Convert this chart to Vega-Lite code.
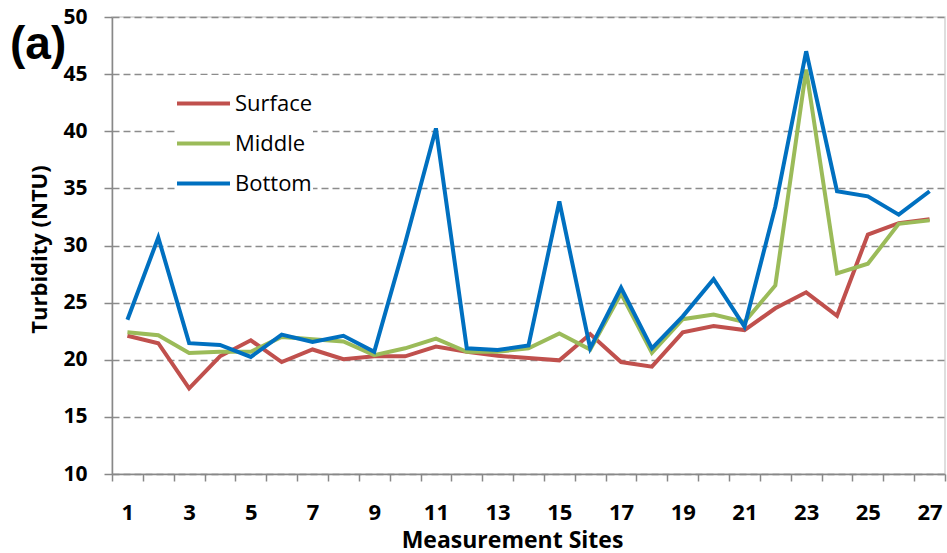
{
  "$schema": "https://vega.github.io/schema/vega-lite/v6.json",
  "width": 833,
  "height": 457,
  "autosize": "none",
  "padding": {"left": 112, "top": 17, "right": 2, "bottom": 79},
  "background": "white",
  "title": {
    "text": "(a)",
    "anchor": "start",
    "frame": "group",
    "orient": "top",
    "font": "Liberation Sans",
    "fontSize": 46,
    "fontWeight": "bold",
    "color": "black",
    "baseline": "alphabetic",
    "offset": -51,
    "dx": -102,
    "dy": 48
  },
  "config": {
    "view": {"stroke": "#d4d4d4", "strokeWidth": 1.5},
    "axis": {
      "labelFont": "Open Sans",
      "labelFontWeight": "bold",
      "labelColor": "black",
      "titleFont": "Open Sans",
      "titleFontWeight": "bold",
      "titleColor": "black",
      "domainColor": "#888888",
      "domainWidth": 1.5,
      "tickColor": "#888888",
      "tickWidth": 1.5
    }
  },
  "datasets": {
    "turb": [
      {"site": 1, "layer": "Surface", "ntu": 22.1},
      {"site": 2, "layer": "Surface", "ntu": 21.45},
      {"site": 3, "layer": "Surface", "ntu": 17.5},
      {"site": 4, "layer": "Surface", "ntu": 20.3},
      {"site": 5, "layer": "Surface", "ntu": 21.7},
      {"site": 6, "layer": "Surface", "ntu": 19.8},
      {"site": 7, "layer": "Surface", "ntu": 20.9},
      {"site": 8, "layer": "Surface", "ntu": 20.05},
      {"site": 9, "layer": "Surface", "ntu": 20.3},
      {"site": 10, "layer": "Surface", "ntu": 20.3},
      {"site": 11, "layer": "Surface", "ntu": 21.15},
      {"site": 12, "layer": "Surface", "ntu": 20.7},
      {"site": 13, "layer": "Surface", "ntu": 20.35},
      {"site": 14, "layer": "Surface", "ntu": 20.15},
      {"site": 15, "layer": "Surface", "ntu": 19.95},
      {"site": 16, "layer": "Surface", "ntu": 22.25},
      {"site": 17, "layer": "Surface", "ntu": 19.8},
      {"site": 18, "layer": "Surface", "ntu": 19.4},
      {"site": 19, "layer": "Surface", "ntu": 22.4},
      {"site": 20, "layer": "Surface", "ntu": 22.95},
      {"site": 21, "layer": "Surface", "ntu": 22.6},
      {"site": 22, "layer": "Surface", "ntu": 24.5},
      {"site": 23, "layer": "Surface", "ntu": 25.9},
      {"site": 24, "layer": "Surface", "ntu": 23.85},
      {"site": 25, "layer": "Surface", "ntu": 30.95},
      {"site": 26, "layer": "Surface", "ntu": 31.95},
      {"site": 27, "layer": "Surface", "ntu": 32.3},
      {"site": 1, "layer": "Middle", "ntu": 22.4},
      {"site": 2, "layer": "Middle", "ntu": 22.15},
      {"site": 3, "layer": "Middle", "ntu": 20.6},
      {"site": 4, "layer": "Middle", "ntu": 20.7},
      {"site": 5, "layer": "Middle", "ntu": 20.7},
      {"site": 6, "layer": "Middle", "ntu": 22.0},
      {"site": 7, "layer": "Middle", "ntu": 21.8},
      {"site": 8, "layer": "Middle", "ntu": 21.6},
      {"site": 9, "layer": "Middle", "ntu": 20.4},
      {"site": 10, "layer": "Middle", "ntu": 21.0},
      {"site": 11, "layer": "Middle", "ntu": 21.85},
      {"site": 12, "layer": "Middle", "ntu": 20.7},
      {"site": 13, "layer": "Middle", "ntu": 20.7},
      {"site": 14, "layer": "Middle", "ntu": 21.0},
      {"site": 15, "layer": "Middle", "ntu": 22.3},
      {"site": 16, "layer": "Middle", "ntu": 20.9},
      {"site": 17, "layer": "Middle", "ntu": 25.8},
      {"site": 18, "layer": "Middle", "ntu": 20.6},
      {"site": 19, "layer": "Middle", "ntu": 23.55},
      {"site": 20, "layer": "Middle", "ntu": 23.95},
      {"site": 21, "layer": "Middle", "ntu": 23.3},
      {"site": 22, "layer": "Middle", "ntu": 26.5},
      {"site": 23, "layer": "Middle", "ntu": 45.4},
      {"site": 24, "layer": "Middle", "ntu": 27.55},
      {"site": 25, "layer": "Middle", "ntu": 28.4},
      {"site": 26, "layer": "Middle", "ntu": 31.9},
      {"site": 27, "layer": "Middle", "ntu": 32.2},
      {"site": 1, "layer": "Bottom", "ntu": 23.5},
      {"site": 2, "layer": "Bottom", "ntu": 30.7},
      {"site": 3, "layer": "Bottom", "ntu": 21.45},
      {"site": 4, "layer": "Bottom", "ntu": 21.3},
      {"site": 5, "layer": "Bottom", "ntu": 20.25},
      {"site": 6, "layer": "Bottom", "ntu": 22.2},
      {"site": 7, "layer": "Bottom", "ntu": 21.55},
      {"site": 8, "layer": "Bottom", "ntu": 22.1},
      {"site": 9, "layer": "Bottom", "ntu": 20.7},
      {"site": 10, "layer": "Bottom", "ntu": 30.2},
      {"site": 11, "layer": "Bottom", "ntu": 40.25},
      {"site": 12, "layer": "Bottom", "ntu": 21.0},
      {"site": 13, "layer": "Bottom", "ntu": 20.85},
      {"site": 14, "layer": "Bottom", "ntu": 21.25},
      {"site": 15, "layer": "Bottom", "ntu": 33.85},
      {"site": 16, "layer": "Bottom", "ntu": 21.0},
      {"site": 17, "layer": "Bottom", "ntu": 26.3},
      {"site": 18, "layer": "Bottom", "ntu": 21.0},
      {"site": 19, "layer": "Bottom", "ntu": 23.8},
      {"site": 20, "layer": "Bottom", "ntu": 27.05},
      {"site": 21, "layer": "Bottom", "ntu": 22.9},
      {"site": 22, "layer": "Bottom", "ntu": 33.4},
      {"site": 23, "layer": "Bottom", "ntu": 47.0},
      {"site": 24, "layer": "Bottom", "ntu": 34.75},
      {"site": 25, "layer": "Bottom", "ntu": 34.3},
      {"site": 26, "layer": "Bottom", "ntu": 32.7},
      {"site": 27, "layer": "Bottom", "ntu": 34.75}
    ]
  },
  "data": {"name": "turb"},
  "mark": {"type": "line", "strokeWidth": 4, "strokeJoin": "miter", "strokeCap": "butt"},
  "encoding": {
    "x": {
      "field": "site",
      "type": "quantitative",
      "scale": {"domain": [0.5, 27.5], "nice": false, "zero": false},
      "axis": {
        "values": [0.5, 1.5, 2.5, 3.5, 4.5, 5.5, 6.5, 7.5, 8.5, 9.5, 10.5, 11.5, 12.5, 13.5, 14.5, 15.5, 16.5, 17.5, 18.5, 19.5, 20.5, 21.5, 22.5, 23.5, 24.5, 25.5, 26.5, 27.5],
        "labelExpr": "(datum.value + 0.5) % 2 == 1 && datum.value < 27 ? '' + (datum.value + 0.5) : ''",
        "labelOffset": 15.4,
        "labelFontSize": 22,
        "labelBaseline": "alphabetic",
        "labelPadding": 38,
        "labelFlush": false,
        "labelOverlap": false,
        "tickSize": 7,
        "grid": false,
        "title": "Measurement Sites",
        "titleFontSize": 23,
        "titleX": 400,
        "titleY": 73,
        "titleBaseline": "alphabetic",
        "titleAnchor": "middle"
      }
    },
    "y": {
      "field": "ntu",
      "type": "quantitative",
      "scale": {"domain": [10, 50], "nice": false, "zero": false},
      "axis": {
        "values": [10, 15, 20, 25, 30, 35, 40, 45, 50],
        "labelFontSize": 21,
        "labelPadding": 17,
        "tickSize": 8,
        "grid": true,
        "gridColor": "#8c8c8c",
        "gridWidth": 1.5,
        "gridDash": [7, 4],
        "title": "Turbidity (NTU)",
        "titleFontSize": 22,
        "titleX": -73,
        "titleY": 232,
        "titleBaseline": "middle",
        "titleAngle": -90,
        "titleAnchor": "middle"
      }
    },
    "color": {
      "field": "layer",
      "type": "nominal",
      "sort": ["Surface", "Middle", "Bottom"],
      "scale": {"domain": ["Surface", "Middle", "Bottom"], "range": ["#C0504D", "#9BBB59", "#0070C0"]},
      "legend": {
        "title": null,
        "orient": "none",
        "legendX": 63,
        "legendY": 58,
        "padding": 0,
        "fillColor": "white",
        "strokeColor": null,
        "symbolType": "stroke",
        "symbolSize": 2809,
        "symbolStrokeWidth": 4,
        "labelFont": "Open Sans",
        "labelFontSize": 22,
        "labelColor": "black",
        "labelOffset": 3,
        "rowPadding": 0
      }
    }
  }
}
